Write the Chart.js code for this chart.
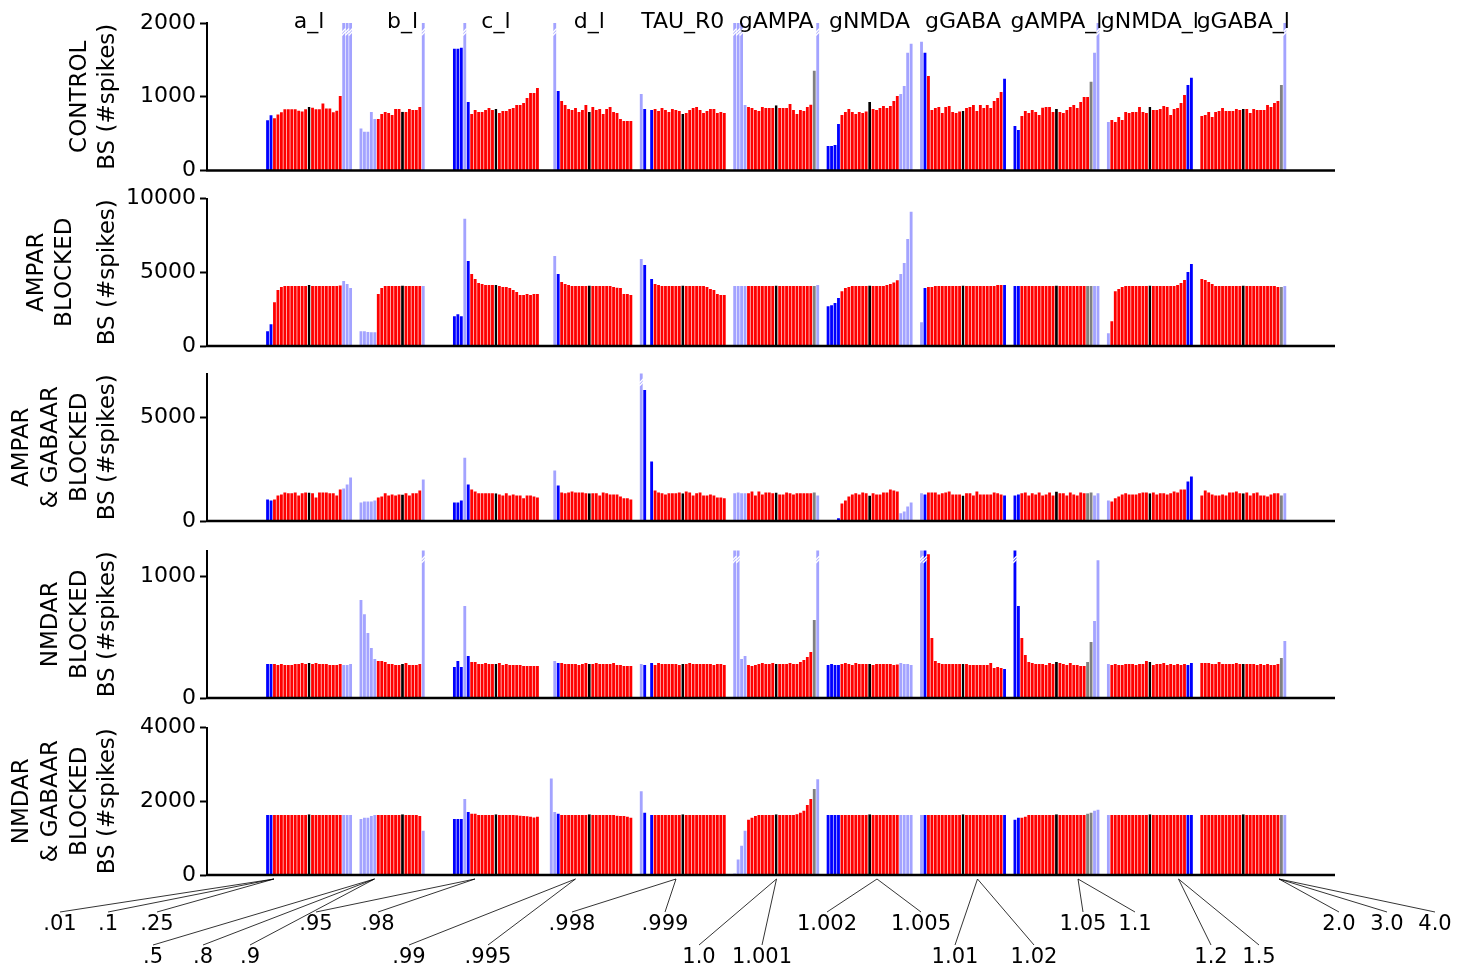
<!DOCTYPE html>
<html><head><meta charset="utf-8">
<script src="https://cdn.jsdelivr.net/npm/chart.js@4.4.1/dist/chart.umd.min.js"></script>
<style>
html,body{margin:0;padding:0;background:#fff;width:1471px;height:974px;overflow:hidden}
canvas{position:absolute;left:0;top:0}
</style>
</head><body>
<canvas id="c0" width="1471" height="974"></canvas>
<canvas id="c1" width="1471" height="974"></canvas>
<canvas id="c2" width="1471" height="974"></canvas>
<canvas id="c3" width="1471" height="974"></canvas>
<canvas id="c4" width="1471" height="974"></canvas>
<script>
// ---------------- DATA ----------------
const groups = ['a_l','b_l','c_l','d_l','TAU_R0','gAMPA','gNMDA','gGABA','gAMPA_l','gNMDA_l','gGABA_l'];
const multipliers = ['.01','.1','.25','.5','.8','.9','.95','.98','.99','.995','.998','.999','1.0','1.001','1.002','1.005','1.01','1.02','1.05','1.1','1.2','1.5','2.0','3.0','4.0'];
const multiplierRow = [1,1,1,2,2,2,1,1,2,2,1,1,2,2,1,1,2,2,1,1,2,2,1,1,1];

// status codes per bar: B blue, R red, L light blue, G grey, K reference (x1.0), - none
const controlStatus = [
 'BBRRRRRRRRRRKRRRRRRRRRLLL','LLLLLRRRRRRRKRRRRRL------','BBBLBRRRRRRRKRRRRRRRRRRRR','--LBRRRRRRRRKRRRRRRRRRRRR',
 'LB-BRRRRRRRRKRRRRRRRRRRRR','LLLLRRRRRRRRKRRRRRRRRRRGL','BBBBRRRRRRRRKRRRRRRRRLLLL','LBRRRRRRRRRRKRRRRRRRRRRRB',
 'BBRRRRRRRRRRKRRRRRRRRRGLL','LRRRRRRRRRRRKRRRRRRRRRRBB','RRRRRRRRRRRRKRRRRRRRRRRGL'];
const blockedStatus = [
 'BBRRRRRRRRRRKRRRRRRRRRLLL','LLLLLRRRRRRRKRRRRRL------','BBBLBRRRRRRRKRRRRRRRRRRRR','--LBRRRRRRRRKRRRRRRRRRRRR',
 'LB-BRRRRRRRRKRRRRRRRRRRRR','LLLLRRRRRRRRKRRRRRRRRRRGL','BBBBRRRRRRRRKRRRRRRRRLLLL','LBRRRRRRRRRRKRRRRRRRRRRRB',
 'BBRRRRRRRRRRKRRRRRRRRGGLL','LRRRRRRRRRRRKRRRRRRRRRRBB','RRRRRRRRRRRRKRRRRRRRRRRGL'];
const ampaGabaStatus = [
 'BBRRRRRRRRRRKRRRRRRRRRLLL','LLLLLRRRRRRRKRRRRRL------','BBBLBRRRRRRRKRRRRRRRRRRRR','--LBRRRRRRRRKRRRRRRRRRRRR',
 'LB-BRRRRRRRRKRRRRRRRRRRRR','LLLLRRRRRRRRKRRRRRRRRRRGL','---BRRRRRRRRKRRRRRRRRLLLL','LBRRRRRRRRRRKRRRRRRRRRRRB',
 'BBRRRRRRRRRRKRRRRRRRRGGLL','LRRRRRRRRRRRKRRRRRRRRRRBB','RRRRRRRRRRRRKRRRRRRRRRRGL'];
const nmdaGabaStatus = [
 'BBRRRRRRRRRRKRRRRRRRRRLLL','LLLLLRRRRRRRKRRRRRL------','BBBLBRRRRRRRKRRRRRRRRRRRR','-LLBRRRRRRRRKRRRRRRRRRRRR',
 'LB-BRRRRRRRRKRRRRRRRRRRRR','LLLLRRRRRRRRKRRRRRRRRRRGL','BBBBRRRRRRRRKRRRRRRRRLLLL','LBRRRRRRRRRRKRRRRRRRRRRRB',
 'BBRRRRRRRRRRKRRRRRRRRGGLL','LRRRRRRRRRRRKRRRRRRRRRRBB','RRRRRRRRRRRRKRRRRRRRRRRGL'];

// BS (#spikes), one row per parameter group, one value per multiplier
const controlBS = [
 [680,750,710,760,790,830,830,830,830,810,800,830,860,850,830,830,910,840,840,790,810,1010,2300,2300,2300],
 [571,526,526,794,698,698,766,794,780,753,834,834,798,794,834,821,821,862,2300,null,null,null,null,null,null],
 [1650,1650,1665,2300,930,766,821,794,794,821,848,821,834,780,807,807,834,848,889,889,916,984,1052,1052,1120],
 [null,null,2300,1079,943,889,834,821,848,794,821,889,794,862,821,834,766,834,862,794,780,698,671,671,671],
 [1038,834,null,821,834,807,848,821,794,834,821,807,766,780,821,848,862,821,780,807,834,834,780,794,780],
 [2300,2300,2300,889,862,848,821,807,862,848,848,848,884,848,848,848,902,821,766,821,807,862,890,1351,2300],
 [331,331,345,630,753,794,834,794,766,794,780,800,930,834,821,848,875,848,875,943,1011,1038,1147,1596,1719],
 [1746,1596,1283,821,848,862,780,862,875,794,780,800,807,848,862,889,807,889,848,889,848,943,984,1066,1243],
 [603,549,739,807,780,821,794,753,850,862,862,794,834,794,780,821,862,889,848,930,998,998,1202,1596,2300],
 [658,685,658,726,685,794,780,794,794,862,794,780,862,821,821,834,875,862,753,834,848,916,1025,1161,1256],
 [739,753,794,726,794,807,848,807,807,807,834,820,834,834,780,834,821,821,821,889,862,916,943,1161,2300]
];
const ampaBlockedBS = [
 [1000,1480,2970,3790,4000,4060,4060,4060,4060,4060,4060,4060,4130,4060,4060,4060,4060,4060,4060,4060,4060,4100,4400,4200,3930],
 [1000,1000,950,930,930,3520,3930,4060,4060,4060,4060,4060,4100,4060,4060,4060,4060,4060,4060,null,null,null,null,null,null],
 [2020,2160,2020,8630,5770,4880,4540,4270,4200,4130,4130,4130,4130,4060,4000,4000,3930,3790,3660,3450,3450,3520,3450,3520,3520],
 [null,null,6100,4880,4340,4200,4130,4060,4060,4060,4060,4060,4100,4060,4060,4060,4060,4060,4060,4000,3950,3930,3520,3520,3450],
 [5900,5490,null,4540,4200,4130,4060,4060,4060,4060,4060,4060,4100,4060,4060,4060,4060,4060,4060,4000,3860,3790,3520,3450,3450],
 [4060,4060,4060,4060,4060,4060,4060,4060,4060,4060,4060,4060,4100,4060,4060,4060,4060,4060,4060,4060,4060,4060,4060,4060,4130],
 [2700,2770,2910,3250,3720,3930,4000,4060,4060,4060,4060,4060,4100,4060,4060,4060,4060,4130,4200,4300,4450,4880,5630,7260,9100],
 [1610,3930,4000,4000,4060,4060,4060,4060,4060,4060,4060,4060,4100,4060,4060,4060,4060,4060,4060,4060,4060,4060,4130,4130,4130],
 [4060,4060,4060,4060,4060,4060,4060,4060,4060,4060,4060,4060,4100,4060,4060,4060,4060,4060,4060,4060,4060,4060,4060,4060,4060],
 [860,1680,3720,3860,4000,4060,4060,4060,4060,4060,4060,4060,4100,4060,4060,4060,4060,4060,4060,4060,4130,4270,4470,5020,5560],
 [4540,4470,4340,4200,4060,4060,4060,4060,4060,4060,4060,4060,4100,4060,4060,4060,4060,4060,4060,4060,4060,4060,4000,4000,4060]
];
const ampaGabaBlockedBS = [
 [1040,990,1040,1230,1280,1370,1330,1330,1370,1230,1330,1370,1370,1330,1130,1370,1370,1370,1330,1330,1230,1520,1565,1760,2090],
 [890,940,940,940,990,1130,1180,1330,1230,1280,1230,1280,1280,1330,1230,1330,1330,1470,2000,null,null,null,null,null,null],
 [890,890,990,3050,1760,1520,1420,1330,1330,1330,1330,1330,1330,1280,1230,1330,1230,1280,1230,1230,1090,1230,1230,1180,1130],
 [null,null,2430,1710,1370,1330,1370,1420,1370,1370,1370,1330,1330,1330,1330,1230,1370,1330,1280,1280,1280,1180,1090,1090,1040],
 [7500,6310,null,2860,1470,1370,1330,1280,1330,1330,1330,1370,1330,1420,1370,1230,1330,1370,1230,1230,1280,1230,1130,1130,1090],
 [1330,1370,1330,1330,1330,1420,1230,1420,1280,1370,1370,1330,1370,1280,1280,1370,1330,1280,1330,1330,1330,1330,1330,1370,1230],
 [null,null,null,130,846,990,1180,1280,1330,1280,1370,1330,1230,1330,1280,1280,1370,1370,1520,1470,1420,370,460,700,890],
 [1330,1280,1370,1370,1370,1280,1330,1370,1420,1280,1280,1280,1230,1330,1330,1230,1420,1280,1280,1280,1280,1370,1330,1280,1230],
 [1230,1280,1330,1370,1230,1330,1280,1370,1230,1280,1370,1230,1420,1330,1330,1230,1370,1280,1230,1370,1330,1330,1370,1230,1330],
 [990,940,1090,1180,1280,1330,1280,1280,1280,1330,1370,1370,1330,1370,1280,1330,1330,1280,1330,1420,1370,1520,1520,1900,2140],
 [1230,1470,1370,1280,1230,1230,1280,1230,1370,1370,1420,1330,1330,1370,1230,1330,1370,1230,1230,1180,1280,1330,1330,1230,1330]
];
const nmdaBlockedBS = [
 [279,279,279,270,279,270,270,270,279,279,287,279,287,279,287,279,279,279,270,270,270,279,270,270,279],
 [803,688,533,410,320,303,303,295,279,279,270,270,279,287,270,270,270,279,1400,null,null,null,null,null,null],
 [254,303,254,754,344,295,295,279,279,287,279,279,279,287,270,279,270,270,270,270,262,262,262,262,262],
 [null,null,303,287,287,279,279,279,279,270,279,287,279,279,287,279,279,279,279,287,270,270,262,262,262],
 [279,270,null,287,270,287,279,279,279,279,279,270,279,279,287,279,279,279,279,279,279,270,279,279,270],
 [1400,1400,320,344,270,262,270,279,287,279,279,287,279,279,279,279,287,279,279,295,311,336,377,639,1400],
 [270,279,270,270,279,287,279,270,287,279,279,279,279,270,279,279,279,279,279,270,275,287,279,279,270],
 [1400,1400,1180,492,303,287,279,279,279,279,279,279,279,279,270,270,270,270,270,270,287,246,254,246,238],
 [1400,754,492,352,295,287,279,279,279,270,287,279,295,287,279,270,287,270,270,262,262,295,459,631,1131],
 [279,270,279,270,270,279,279,279,270,279,279,303,295,270,279,279,287,270,279,270,279,270,279,270,287],
 [287,287,287,279,279,295,279,279,279,279,287,279,279,279,279,279,270,279,270,279,270,270,279,328,467]
];
const nmdaGabaBlockedBS = [
 [1630,1630,1630,1630,1630,1630,1630,1630,1630,1630,1630,1630,1650,1630,1630,1630,1630,1630,1630,1630,1630,1630,1630,1630,1630],
 [1520,1550,1550,1600,1630,1630,1630,1630,1630,1630,1630,1630,1650,1630,1630,1630,1630,1600,1200,null,null,null,null,null,null],
 [1520,1520,1520,2060,1710,1660,1660,1630,1630,1630,1630,1630,1650,1630,1630,1630,1630,1630,1620,1610,1600,1590,1580,1560,1580],
 [null,2620,1710,1660,1630,1630,1630,1630,1630,1630,1630,1630,1650,1630,1630,1630,1630,1630,1630,1630,1610,1600,1600,1580,1550],
 [2270,1690,null,1630,1630,1630,1630,1630,1630,1630,1630,1630,1650,1630,1630,1630,1630,1630,1630,1630,1630,1630,1630,1630,1630],
 [40,420,790,1200,1500,1550,1600,1630,1630,1630,1630,1630,1650,1630,1630,1630,1630,1630,1650,1690,1740,1900,2060,2330,2600],
 [1630,1630,1630,1630,1630,1630,1630,1630,1630,1630,1630,1630,1650,1630,1630,1630,1630,1630,1630,1630,1630,1630,1630,1630,1630],
 [1630,1630,1630,1630,1630,1630,1630,1630,1630,1630,1630,1630,1650,1630,1630,1630,1630,1630,1630,1630,1630,1630,1630,1630,1630],
 [1500,1550,1550,1580,1630,1630,1630,1630,1630,1630,1630,1630,1650,1630,1630,1630,1630,1630,1630,1630,1630,1660,1690,1740,1770],
 [1630,1630,1630,1630,1630,1630,1630,1630,1630,1630,1630,1630,1650,1630,1630,1630,1630,1630,1630,1630,1630,1630,1630,1630,1630],
 [1630,1630,1630,1630,1630,1630,1630,1630,1630,1630,1630,1630,1650,1630,1630,1630,1630,1630,1630,1630,1630,1630,1630,1630,1630]
];

const panelTitles = [
 ['CONTROL','BS (#spikes)'],
 ['AMPAR','BLOCKED','BS (#spikes)'],
 ['AMPAR','& GABAAR','BLOCKED','BS (#spikes)'],
 ['NMDAR','BLOCKED','BS (#spikes)'],
 ['NMDAR','& GABAAR','BLOCKED','BS (#spikes)']
];
const panelMax = [2000, 10000, 7100, 1210, 4000];
const panelTicks = [[0,1000,2000],[0,5000,10000],[0,5000],[0,1000],[0,2000,4000]];

// ---------------- LAYOUT ----------------
const W = 1471, H = 974;
const PLOT_LEFT = 207, PLOT_RIGHT = 1335;
const PANEL_BOTTOM = [170.5, 346, 521, 698, 875];
const PANEL_H = 147.5;
const TITLE_X = [[80,108],[37,65,108],[22,51,80,108],[51,80,108],[22,51,80,108]];
const LEAD_SLOTS = 17, GROUP_SLOTS = 27, N_SLOTS = 326;
const COLORS = {B:'#0000ff', R:'#ff0000', L:'#a3a3ff', G:'#808080', K:'#000000'};
const FONT = "'DejaVu Sans', 'Noto Sans', sans-serif";

Chart.defaults.font.family = FONT;
Chart.defaults.color = '#000';

const slotLabels = [];
for (let s = 0; s < N_SLOTS; s++) slotLabels.push('s' + s);

function buildPanel(values, status) {
  const data = new Array(N_SLOTS).fill(null);
  const bg = new Array(N_SLOTS).fill('rgba(0,0,0,0)');
  const bc = new Array(N_SLOTS).fill('rgba(0,0,0,0)');
  const bw = new Array(N_SLOTS).fill(0);
  values.forEach((row, g) => {
    const st = (status[g] || '').padEnd(25, 'R');
    row.forEach((v, i) => {
      const code = st[i];
      if (v === null || code === '-') return;
      const s = LEAD_SLOTS + g * GROUP_SLOTS + i;
      data[s] = v;
      bg[s] = COLORS[code];
      if (code === 'K') { bc[s] = '#000'; bw[s] = 1.5; }
    });
  });
  return {data, bg, bc, bw};
}

const panelsData = [
  buildPanel(controlBS, controlStatus),
  buildPanel(ampaBlockedBS, blockedStatus),
  buildPanel(ampaGabaBlockedBS, ampaGabaStatus),
  buildPanel(nmdaBlockedBS, blockedStatus),
  buildPanel(nmdaGabaBlockedBS, nmdaGabaStatus)
];

// bottom annotation layout
const annotAnchorX = [274, 374.5, 475, 575.5, 676, 776.5, 877, 977.5, 1078, 1178.5, 1279];
const annotLabelX = [60,108,157,153,203,250,316,378,409,488,572,665,699,762,827,921,955,1034,1083,1135,1211,1259,1339,1387,1435];
const annotAnchorOf = [0,0,0,1,1,1,2,2,3,3,4,4,5,5,6,6,7,7,8,8,9,9,10,10,10];

function makeDecor(k) {
  return {
    id: 'decor' + k,
    afterDatasetsDraw(chart) {
      const ctx = chart.ctx, area = chart.chartArea;
      const meta = chart.getDatasetMeta(0);
      const max = panelMax[k];
      ctx.save();
      ctx.strokeStyle = '#fff';
      ctx.lineWidth = 1.3;
      meta.data.forEach((el, idx) => {
        const v = chart.data.datasets[0].data[idx];
        if (v !== null && v > max) {
          const x = el.x, w = el.width;
          const y0 = area.top + 7;
          ctx.beginPath();
          ctx.moveTo(x - w / 2 - 0.5, y0 + 2.5);
          ctx.lineTo(x + w / 2 + 0.5, y0 - 1.5);
          ctx.stroke();
          ctx.beginPath();
          ctx.moveTo(x - w / 2 - 0.5, y0 + 5.5);
          ctx.lineTo(x + w / 2 + 0.5, y0 + 1.5);
          ctx.stroke();
        }
      });
      ctx.restore();
    },
    afterDraw(chart) {
      const ctx = chart.ctx, area = chart.chartArea;
      ctx.save();
      // bottom spine
      ctx.fillStyle = '#000';
      ctx.fillRect(area.left - 1, area.bottom - 1.25, PLOT_RIGHT - area.left + 1, 2.5);
      // y title
      const lines = panelTitles[k];
      const cy = (area.top + area.bottom) / 2;
      ctx.font = "23px " + FONT;
      ctx.textAlign = 'center';
      ctx.textBaseline = 'middle';
      lines.forEach((t, j) => {
        const x = TITLE_X[k][j];
        ctx.save();
        ctx.translate(x, cy);
        ctx.rotate(-Math.PI / 2);
        ctx.fillText(t, 0, 0);
        ctx.restore();
      });
      const xs = chart.scales.x;
      if (k === 0) {
        ctx.font = "22px " + FONT;
        groups.forEach((gname, g) => {
          const x = xs.getPixelForValue(LEAD_SLOTS + g * GROUP_SLOTS + 12);
          ctx.fillText(gname, x, 22);
        });
      }
      if (k === 4) {
        ctx.strokeStyle = '#000';
        ctx.lineWidth = 0.8;
        ctx.font = "21px " + FONT;
        multipliers.forEach((m, i) => {
          const ax = annotAnchorX[annotAnchorOf[i]];
          const lx = annotLabelX[i];
          const row = multiplierRow[i];
          const ly = row === 1 ? 912 : 945;
          ctx.beginPath();
          ctx.moveTo(ax, 879);
          ctx.lineTo(lx, ly);
          ctx.stroke();
          ctx.fillText(m, lx, row === 1 ? 925 : 958);
        });
      }
      ctx.restore();
    }
  };
}

panelsData.forEach((pd, k) => {
  const bottom = PANEL_BOTTOM[k];
  const top = bottom - PANEL_H;
  new Chart(document.getElementById('c' + k), {
    type: 'bar',
    data: {
      labels: slotLabels,
      datasets: [{
        data: pd.data,
        backgroundColor: pd.bg,
        borderColor: pd.bc,
        borderWidth: pd.bw,
        borderSkipped: false,
        barPercentage: 0.82,
        categoryPercentage: 1.0
      }]
    },
    options: {
      responsive: false,
      animation: false,
      events: [],
      layout: { padding: { left: 0, right: W - PLOT_RIGHT, top: top, bottom: H - bottom } },
      plugins: { legend: { display: false }, tooltip: { enabled: false } },
      scales: {
        x: { type: 'category', display: false, offset: true },
        y: {
          min: 0, max: panelMax[k],
          ticks: { font: { size: 22, family: FONT }, color: '#000', padding: 4, callback: (v) => String(v) },
          afterBuildTicks: (s) => { s.ticks = panelTicks[k].map(v => ({ value: v })); },
          afterFit: (s) => { s.width = PLOT_LEFT; },
          grid: { display: true, drawOnChartArea: false, drawTicks: true, tickLength: 7, tickWidth: 2, tickColor: '#000' },
          border: { display: true, color: '#000', width: 2 }
        }
      }
    },
    plugins: [makeDecor(k)]
  });
});
</script>
</body></html>
